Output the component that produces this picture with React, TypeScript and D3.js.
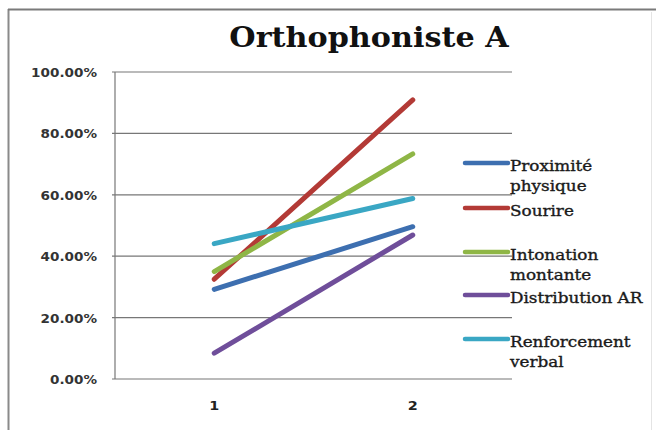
import React from "react";
import * as d3 from "d3";

const categories = ["1", "2"];
const seriesNames = [
  "Proximité physique",
  "Sourire",
  "Intonation montante",
  "Distribution AR",
  "Renforcement verbal",
];
const proximite = [0.292, 0.496];
const sourire = [0.325, 0.909];
const intonation = [0.35, 0.733];
const distribution = [0.084, 0.469];
const renforcement = [0.441, 0.588];
const yTicks = [0, 0.2, 0.4, 0.6, 0.8, 1.0];
const colors = ["#3d6fb0", "#b33a36", "#8fb646", "#6f4e9a", "#3aa7c4"];
const legendLines = [
  ["Proximité", "physique"],
  ["Sourire"],
  ["Intonation", "montante"],
  ["Distribution AR"],
  ["Renforcement", "verbal"],
];

function SText(props: {
  x: number;
  y: number;
  sx: number;
  anchor?: string;
  family: string;
  size: number;
  weight?: string;
  fill: string;
  strokeW?: number;
  children: React.ReactNode;
}) {
  return (
    <g transform={`translate(${props.x},${props.y}) scale(${props.sx},1)`}>
      <text
        x={0}
        y={0}
        textAnchor={props.anchor || "start"}
        fontFamily={props.family}
        fontSize={props.size}
        fontWeight={props.weight || "normal"}
        fill={props.fill}
        stroke={props.strokeW ? props.fill : "none"}
        strokeWidth={props.strokeW || 0}
      >
        {props.children}
      </text>
    </g>
  );
}

export default function App() {
  const W = 656, H = 430;
  const left = 115, right = 512, top = 72, bottom = 379;
  const x = d3.scaleBand().domain(categories).range([left, right]);
  const y = d3.scaleLinear().domain([0, 1]).range([bottom, top]);
  const cx = (c: string) => (x(c) as number) + x.bandwidth() / 2;
  const series = [proximite, sourire, intonation, distribution, renforcement];
  const line = d3
    .line<number>()
    .x((_, i) => cx(categories[i]))
    .y((d) => y(d));
  const legendY = [163, 208, 252, 295, 339];
  const fmt = d3.format(".2%");
  return (
    <svg
      width={W}
      height={H}
      style={{ position: "absolute", left: 0, top: 0, background: "#fff" }}
    >
      <rect x={0} y={0} width={W} height={H} fill="#fff" />
      <line x1={8.5} y1={9} x2={8.5} y2={H} stroke="#8a8a8a" strokeWidth={2} />
      <line x1={8} y1={9.5} x2={W} y2={9.5} stroke="#7a7a7a" strokeWidth={2} />
      <line x1={651.5} y1={12} x2={651.5} y2={H} stroke="#e4e4e4" strokeWidth={1} />
      <SText
        x={369}
        y={47}
        sx={1.12}
        anchor="middle"
        family="'DejaVu Serif', serif"
        weight="bold"
        size={27}
        fill="#111"
      >
        Orthophoniste A
      </SText>
      {yTicks.map((t) => (
        <g key={t}>
          <line x1={112} x2={right} y1={y(t)} y2={y(t)} stroke="#777" strokeWidth={1.2} />
          <SText
            x={97}
            y={y(t) + 5}
            sx={1.18}
            anchor="end"
            family="'DejaVu Sans', Verdana, sans-serif"
            weight="bold"
            size={11.5}
            fill="#333"
          >
            {fmt(t)}
          </SText>
        </g>
      ))}
      <line x1={left} x2={left} y1={top} y2={bottom} stroke="#777" strokeWidth={1.2} />
      {categories.map((c) => (
        <SText
          key={c}
          x={cx(c)}
          y={bottom + 31}
          sx={1.15}
          anchor="middle"
          family="'DejaVu Sans', Verdana, sans-serif"
          weight="bold"
          size={12.5}
          fill="#222"
        >
          {c}
        </SText>
      ))}
      {series.map((s, i) => (
        <path
          key={seriesNames[i]}
          d={line(s) as string}
          fill="none"
          stroke={colors[i]}
          strokeWidth={5}
          strokeLinecap="round"
        />
      ))}
      {legendLines.map((lines, i) => (
        <g key={i}>
          <line
            x1={465}
            x2={508}
            y1={legendY[i]}
            y2={legendY[i]}
            stroke={colors[i]}
            strokeWidth={4.5}
            strokeLinecap="round"
          />
          {lines.map((l, j) => (
            <SText
              key={j}
              x={510}
              y={legendY[i] + 8 + j * 20}
              sx={1.16}
              family="'DejaVu Serif', serif"
              size={14.5}
              fill="#1a1a1a"
              strokeW={0.35}
            >
              {l}
            </SText>
          ))}
        </g>
      ))}
    </svg>
  );
}
